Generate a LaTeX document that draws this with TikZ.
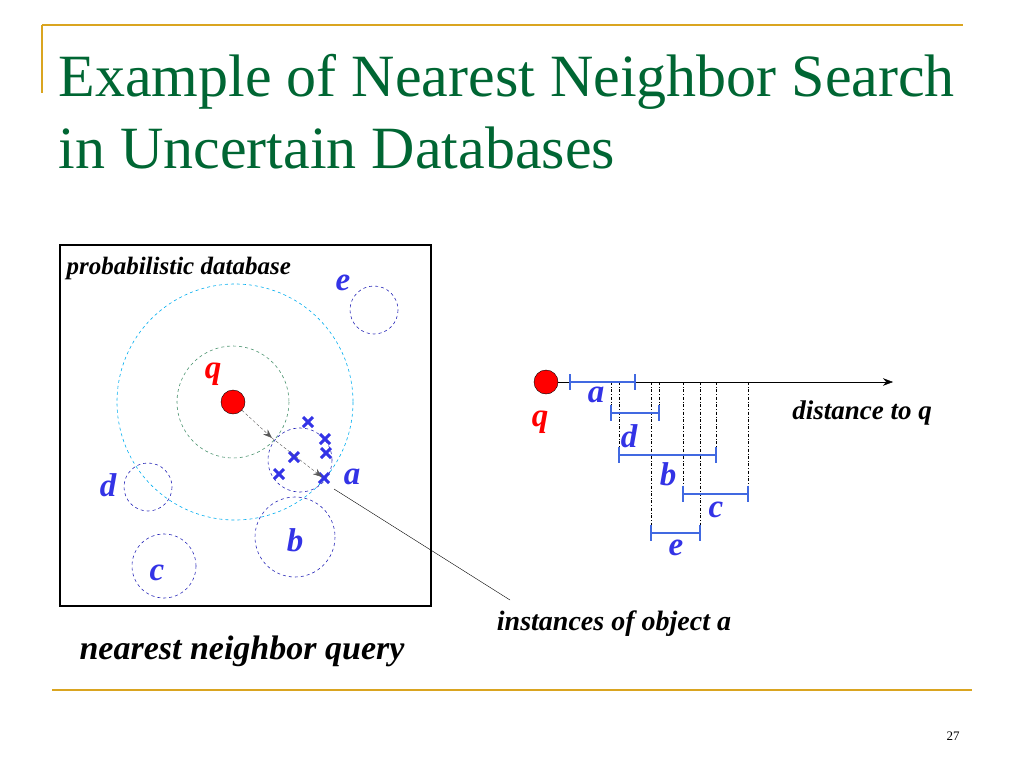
\documentclass[tikz,border=0pt]{standalone}
\usepackage{fontspec}
\setmainfont{Liberation Serif}
\usetikzlibrary{arrows.meta}
\definecolor{titlegreen}{RGB}{0,102,51}
\definecolor{gold}{RGB}{218,165,32}
\definecolor{objblue}{RGB}{51,51,230}
\definecolor{barblue}{RGB}{65,105,225}
\tikzset{
  objcircle/.style={draw=objblue!80!black, dashed, semithick},
  lbl/.style={text=objblue, font=\fontsize{33}{33}\selectfont\bfseries\itshape},
  crossmark/.style={draw=objblue, line width=3pt},
  bar/.style={draw=barblue, line width=2.5pt},
  guide/.style={dash dot, thin}
}
\begin{document}
\begin{tikzpicture}[x=1pt,y=-1pt]
  \useasboundingbox (0,0) rectangle (1024,768);
  % frame of the slide
  \draw [gold, line width=1.5pt] (42,25) -- (963,25);
  \draw [gold, line width=1.5pt] (42,25) -- (42,93);
  \draw [gold, line width=1.5pt] (52,690) -- (972,690);
  \node [anchor=west, align=left, text=titlegreen, font=\fontsize{60}{72}\selectfont] (title) at (55,112)
    {Example of Nearest Neighbor Search\\in Uncertain Databases};
  \node [font=\fontsize{13}{13}\selectfont] (page) at (953,736) {27};
  % left box
  \draw [line width=2pt] (60,245) rectangle (431,606);
  \node [anchor=west, font=\fontsize{25}{25}\selectfont\bfseries\itshape] (pdb) at (63,268) {probabilistic database};
  \draw [cyan, dashed, semithick] (235,402) circle (118);
  \draw [titlegreen!70, dashed, semithick] (233,402) circle (56);
  \draw [objcircle] (374,310) circle (24);
  \draw [objcircle] (148,487) circle (24);
  \draw [objcircle] (164,566) circle (32);
  \draw [objcircle] (295,537) circle (40);
  \draw [objcircle] (300,460) circle (32);
  \foreach \x/\y in {308/422, 325/439, 326/453, 294/457, 279/474, 324/478}
    \draw [crossmark] (\x-5,\y-5) -- (\x+5,\y+5) (\x-5,\y+5) -- (\x+5,\y-5);
  \node [circle, fill=red, draw=black, minimum size=24pt, inner sep=0pt] (q) at (233,402) {};
  \coordinate (inA) at (272,438);
  \coordinate (outA) at (322,477);
  \draw [gray!70!black, densely dashed, -{Stealth[length=9pt]}] (q) -- (inA);
  \draw [gray!70!black, densely dashed, -{Stealth[length=9pt]}] (inA) -- (outA);
  \node [lbl, text=red] (ql) at (213,374) {q};
  \node [lbl] (al) at (352,477) {a};
  \node [lbl] (bl) at (295,540) {b};
  \node [lbl] (cl) at (157,573) {c};
  \node [lbl] (dl) at (108,485) {d};
  \node [lbl] (el) at (343,283) {e};
  % pointer to the instances
  \coordinate (pstart) at (334,489);
  \node [font=\fontsize{28}{28}\selectfont\bfseries\itshape] (inst) at (614,624) {instances of object a};
  \draw (pstart) -- (510,600);
  \node [font=\fontsize{34}{34}\selectfont\bfseries\itshape] (nnq) at (242,651) {nearest neighbor query};
  % distance axis
  \node [circle, fill=red, draw=black, minimum size=24pt, inner sep=0pt] (q2) at (546,382) {};
  \coordinate (axend) at (893,382);
  \draw [-{Stealth[length=10pt]}] (q2) -- (axend);
  \node [font=\fontsize{27}{27}\selectfont\bfseries\itshape] (dist) at (862,413) {distance to q};
  \node [lbl, text=red] (q2l) at (540,422) {q};
  \foreach \x/\y in {611/413, 619/455, 651/533, 659/413, 683/494, 700/533, 716/455, 748/494}
    \draw [guide] (\x,382) -- (\x,\y);
  \foreach \a/\b/\y in {570/635/382, 611/659/413, 619/716/455, 683/748/494, 651/700/533}
    \draw [bar] (\a,\y) -- (\b,\y) (\a,\y-8) -- (\a,\y+8) (\b,\y-8) -- (\b,\y+8);
  \node [lbl] (a2) at (596,395) {a};
  \node [lbl] (d2) at (629,436) {d};
  \node [lbl] (b2) at (668,474) {b};
  \node [lbl] (c2) at (716,510) {c};
  \node [lbl] (e2) at (676,548) {e};
\end{tikzpicture}
\end{document}
